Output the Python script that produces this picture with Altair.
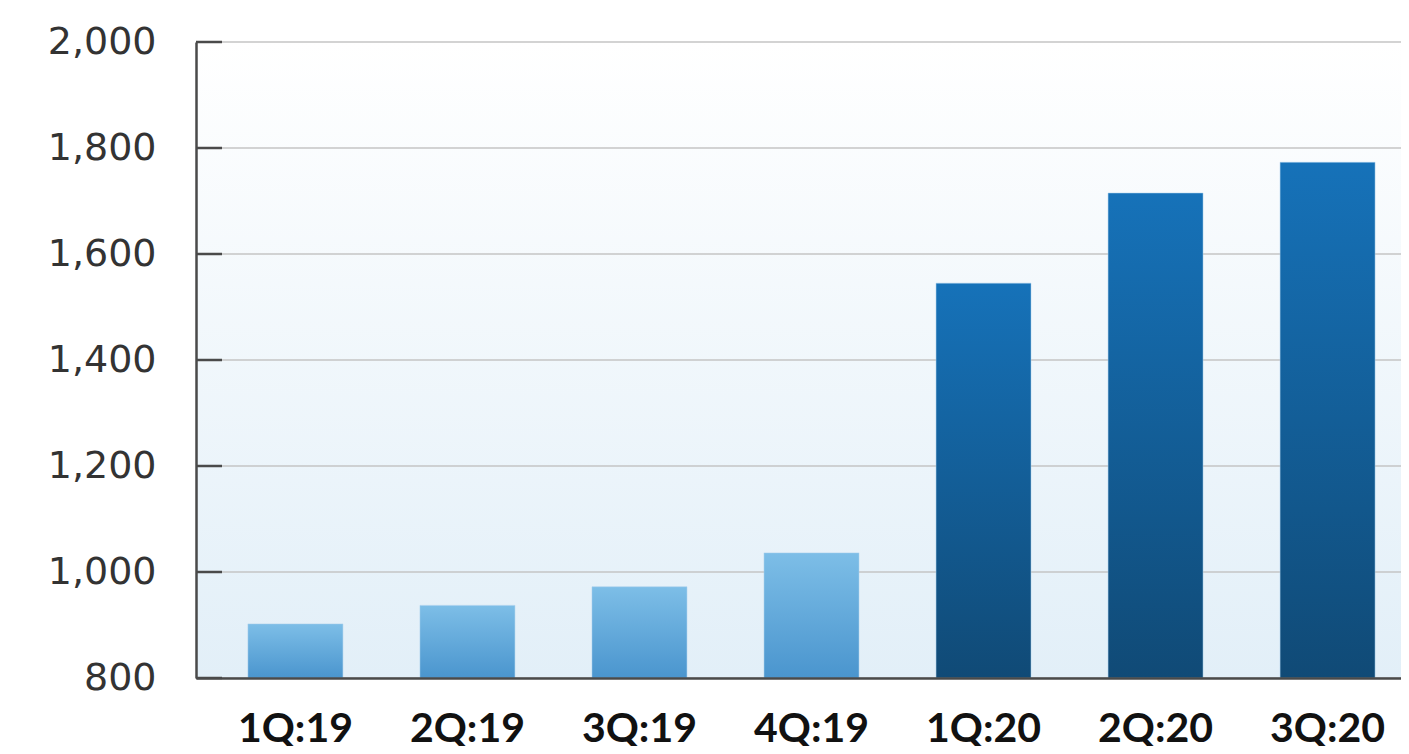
import altair as alt
import pandas as pd

quarters = ["1Q:19", "2Q:19", "3Q:19", "4Q:19", "1Q:20", "2Q:20", "3Q:20"]
values = [902, 937, 972, 1036, 1545, 1715, 1773]
years = ["2019", "2019", "2019", "2019", "2020", "2020", "2020"]
y_ticks = [800, 1000, 1200, 1400, 1600, 1800, 2000]

W = 1205
H = 636
RANGE_W = 1231

df = pd.DataFrame({"q": quarters, "v": values, "yr": years})
ticks_df = pd.DataFrame({"v": y_ticks})
bg_df = pd.DataFrame({"a": [0]})

def grad(top, bottom):
    return alt.LinearGradient(
        gradient="linear",
        stops=[alt.GradientStop(color=top, offset=0), alt.GradientStop(color=bottom, offset=1)],
        x1=0, x2=0, y1=0, y2=1,
    )

yscale = alt.Scale(domain=[y_ticks[0], y_ticks[-1]], nice=False, zero=False)
xscale = alt.Scale(domain=quarters, range=[0, RANGE_W], paddingInner=0.448, paddingOuter=0.302)

bg = alt.Chart(bg_df).mark_rect(color=grad("#ffffff", "#e2eff8")).encode(
    x=alt.value(0), x2=alt.value(RANGE_W), y=alt.value(0), y2=alt.value(H)
)

grid = alt.Chart(ticks_df).mark_rule(color="#c4c4c4", strokeWidth=1.5).encode(
    y=alt.Y("v:Q", scale=yscale, title=None,
            axis=alt.Axis(values=y_ticks, format=",d", ticks=False, grid=False,
                          labelFont="DejaVu Sans", labelFontSize=38, labelColor="#333333",
                          labelPadding=40, domainColor="#4a4a4a", domainWidth=2.5,
                          zindex=1)),
    x=alt.value(0), x2=alt.value(RANGE_W),
)

xaxis = alt.Axis(ticks=False, grid=False, labelAngle=0, labelFont="Lato",
                 labelFontWeight="bold", labelFontSize=41, labelColor="#111111",
                 labelPadding=31, domainColor="#4a4a4a", domainWidth=2.5, zindex=1)

def bars(yr, top, bottom):
    return alt.Chart(df).transform_filter(alt.datum.yr == yr).mark_bar(
        color=grad(top, bottom), stroke="#a8d0ee", strokeWidth=1, strokeOpacity=0.5
    ).encode(
        x=alt.X("q:N", scale=xscale, sort=quarters, title=None, axis=xaxis),
        y=alt.Y("v:Q", scale=yscale, title=None),
        y2=alt.datum(y_ticks[0]),
    )

b19 = bars("2019", "#7dbee7", "#4a95ce")
b20 = bars("2020", "#1672b9", "#104a76")

tk = alt.Chart(ticks_df).mark_rule(color="#4a4a4a", strokeWidth=2.5).encode(
    y=alt.Y("v:Q", scale=yscale, title=None),
    x=alt.value(0), x2=alt.value(26),
)

chart = alt.layer(bg, grid, b19, b20, tk).properties(
    width=W, height=H,
    autosize=alt.AutoSizeParams(type="none"),
    padding={"left": 188, "top": 34, "right": 0, "bottom": 68},
).configure_view(strokeOpacity=0)

chart.save("out.html", embed_options={"renderer": "svg", "actions": False})
